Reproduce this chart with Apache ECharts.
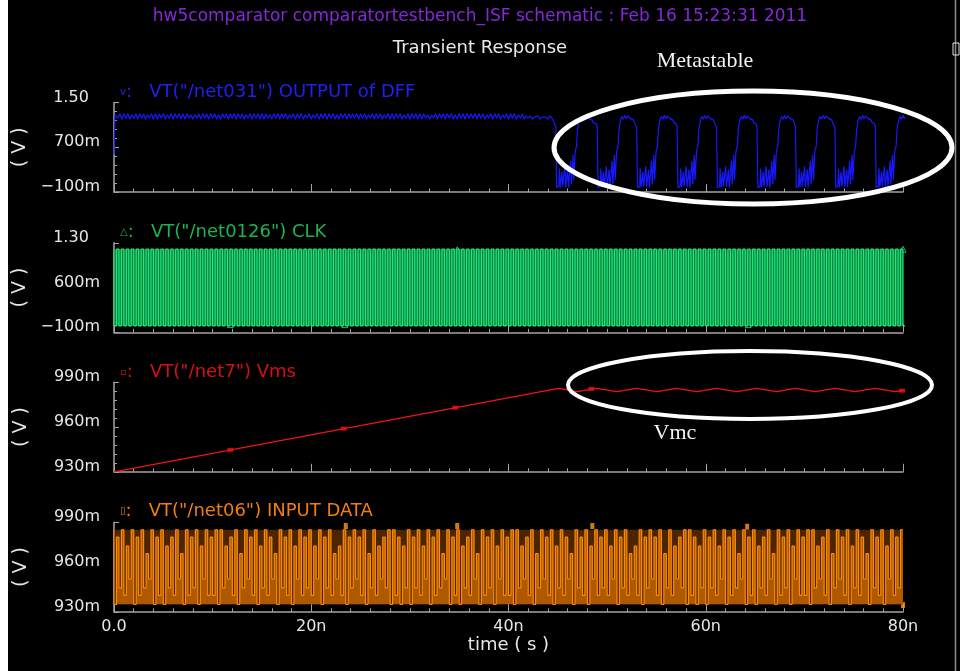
<!DOCTYPE html>
<html><head><meta charset="utf-8">
<script src="https://cdn.jsdelivr.net/npm/echarts@6/dist/echarts.min.js"></script>
<style>html,body{margin:0;padding:0;background:#fff}#c{width:960px;height:671px}</style>
</head><body><div id="c"></div>
<script>
// ---------------- data ----------------
const titleText = 'hw5comparator comparatortestbench_ISF schematic : Feb 16 15:23:31 2011';
const subtitleText = 'Transient Response';
const seriesNames = ['VT("/net031") OUTPUT of DFF', 'VT("/net0126") CLK', 'VT("/net7") Vms', 'VT("/net06") INPUT DATA'];
const legendMarks = ['v', '△', '▫', '▯'];
const xTickLabels = ['0.0', '20n', '40n', '60n', '80n'];
const yTickLabels = [['\u2212100m', '700m', '1.50'], ['\u2212100m', '600m', '1.30'], ['930m', '960m', '990m'], ['930m', '960m', '990m']];
const yMin = [-0.1, -0.1, 0.93, 0.93];
const yMax = [1.5, 1.3, 0.99, 0.99];
const yStep = [0.8, 0.7, 0.03, 0.03];

// OUTPUT of DFF: start, ripple (0.2 ns samples), then metastable cycles
const dffStartNs = [0, 0.1];
const dffStartVolts = [0.57, 1.28];
const dffRippleLevels = [1.20, 1.22, 1.24, 1.26, 1.28, 1.30];
const dffRippleCodes =
  '51505150415051504150' + '50515041505150505140' + '41505150515040515051' +
  '50515041505150505140' + '51505150415051504150' + '41505150515040515051' +
  '51505150415051504150' + '50515041505150505140' + '41505150515040515051' +
  '51505150415051504150' + '51504150313021302120312';
const metaFallNs = [44.8, 49.0, 53.0, 57.1, 61.1, 65.2, 69.1, 73.1, 77.2];
const metaShapeNs = [-0.1, 0.0, 0.08, 0.3, 0.36, 0.45, 0.62, 0.7, 0.92, 1.0, 1.2, 1.28, 1.5, 1.58, 1.74, 1.82, 1.96, 2.1, 2.2, 2.35, 2.5, 2.65, 2.8, 2.95, 3.1, 3.3, 3.5, 3.65, 3.78];
const metaShapeV = [1.12, 1.05, -0.02, 0.0, 0.32, -0.02, 0.26, 0.0, 0.36, -0.01, 0.30, -0.02, 0.46, 0.04, 0.56, 0.12, 0.62, 0.72, 1.02, 1.18, 1.25, 1.20, 1.27, 1.21, 1.26, 1.22, 1.25, 1.19, 1.14];

// CLK: 0.25 ns samples, swing envelope
const clkLevels = [0.0, 1.2];
const clkCodes =
  '1010101010101010101010101010101010101010' + '1010101010101010101010101010101010101010' +
  '1010101010101010101010101010101010101010' + '1010101010101010101010101010101010101010' +
  '1010101010101010101010101010101010101010' + '1010101010101010101010101010101010101010' +
  '1010101010101010101010101010101010101010' + '1010101010101010101010101010101010101010' + '10';
const clkEnvNs = [0, 80];
const clkEnvV = [1.2, 1.2];
const clkMarkNs = [11.8, 23.4, 34.8, 48.6, 64.3, 80.0];
const clkMarkV = [0.02, 0.02, 1.19, 1.08, 0.02, 1.2];

// Vms
const vmsTimeNs = [0, 45.06, 46.93, 48.96, 50.98, 53.01, 55.04, 57.06, 59.09, 61.12, 63.14, 65.17, 67.2, 69.06, 71.08, 73.1, 75.13, 77.16, 79.19, 80.0];
const vmsVolts = [0.930, 0.9860, 0.9837, 0.9860, 0.9837, 0.9860, 0.9837, 0.9860, 0.9837, 0.9860, 0.9837, 0.9860, 0.9837, 0.9860, 0.9837, 0.9860, 0.9837, 0.9860, 0.9837, 0.9845];
const vmsMarkNs = [11.8, 23.3, 34.6, 48.4, 79.9];
const vmsMarkV = [0.9447, 0.9590, 0.9730, 0.9856, 0.9844];

// INPUT DATA: 0.25 ns samples, swing envelope
const inLevels = [0.935, 0.941, 0.946, 0.952, 0.958, 0.963, 0.969, 0.974, 0.980, 0.985];
const inCodes =
  '9082917390819263908190728193609182907391' + '8190927381906293819072918360928190739182' +
  '9173908291637190829381906291738290918072' + '9082917390819263908190728193609182907391' +
  '8190927381906293819072918360928190739182' + '9173908291637190829381906291738290918072' +
  '9082917390819263908190728193609182907391' + '8190927381906293819072918360928190739182' + '9';
const inEnvNs = [0, 80];
const inEnvV = [0.985, 0.985];
const inFloorV = 0.935;
const inMarkNs = [11.8, 23.5, 34.8, 48.5, 64.2, 80.0];
const inMarkV = [0.9446, 0.9875, 0.9875, 0.9875, 0.9870, 0.9345];

// ---------------- build ----------------
const r3 = v => Math.round(v * 1000) / 1000;
function sampled(codes, levels, stepNs) {
  const out = [];
  for (let i = 0; i < codes.length; i++) out.push([r3(i * stepNs), levels[+codes[i]]]);
  return out;
}
function pairs(ts, vs) { return ts.map((t, i) => [t, vs[i]]); }

const dffData = pairs(dffStartNs, dffStartVolts);
for (let i = 0; i < dffRippleCodes.length; i++) dffData.push([r3(0.2 * (i + 1)), dffRippleLevels[+dffRippleCodes[i]]]);
metaFallNs.forEach(F => metaShapeNs.forEach((o, j) => dffData.push([r3(F + o), metaShapeV[j]])));

const clkData = sampled(clkCodes, clkLevels, 0.25);
const inData = sampled(inCodes, inLevels, 0.25);

const FONT = 'DejaVu Sans';
const AX = '#a4a4a4';
const TXT = '#e6e6e6';
const tops = [102.5, 242.8, 382.3, 522.3];
const H = 89.5;
const colors = ['#1818ff', '#22e878', '#ee1414', '#ff8c00'];
const legendColors = ['#2020f0', '#19b454', '#d81010', '#ee7f10'];
const legendCenters = [93, 233.5, 373, 512];

const grids = [], xAxes = [], yAxes = [], legends = [];
for (let p = 0; p < 4; p++) {
  grids.push({ left: 114, top: tops[p], width: 789, height: H, containLabel: false });
  xAxes.push({
    gridIndex: p, type: 'value', min: 0, max: 80, interval: 20,
    axisLine: { show: true, onZero: false, lineStyle: { color: AX, width: 1.5 } },
    axisTick: { show: true, inside: true, length: 8, lineStyle: { color: AX } },
    minorTick: { show: true, splitNumber: 10, length: 3.5, lineStyle: { color: AX } },
    splitLine: { show: false },
    axisLabel: {
      show: p === 3, color: TXT, fontFamily: FONT, fontSize: 16, margin: 7,
      formatter: v => xTickLabels[Math.round(v / 20)]
    },
    name: p === 3 ? 'time ( s )' : '', nameLocation: 'middle', nameGap: 25,
    nameTextStyle: { color: TXT, fontFamily: FONT, fontSize: 18 }
  });
  yAxes.push({
    gridIndex: p, type: 'value', min: yMin[p], max: yMax[p], interval: yStep[p],
    axisLine: { show: true, onZero: false, lineStyle: { color: AX, width: 1.5 } },
    axisTick: { show: true, inside: true, length: 5, lineStyle: { color: AX } },
    minorTick: { show: true, splitNumber: 5, length: 3, lineStyle: { color: AX } },
    splitLine: { show: false },
    axisLabel: {
      color: TXT, fontFamily: FONT, fontSize: 16, margin: 14,
      verticalAlign: 'bottom', lineHeight: 10,
      formatter: (v, i) => {
        const s = yTickLabels[p][i] || '';
        return s.endsWith('m') ? s : s + '\u2002\u2009';
      }
    },
    name: '( V )', nameLocation: 'middle', nameRotate: 90, nameGap: 83,
    nameTextStyle: { color: TXT, fontFamily: FONT, fontSize: 19 }
  });
  legends.push({
    data: [seriesNames[p]], left: 115, top: legendCenters[p] - 10, padding: 0,
    icon: 'none', itemWidth: 0, itemHeight: 0, selectedMode: false,
    formatter: n => '{m|' + legendMarks[p] + '}{t|:   ' + n + '}',
    textStyle: {
      color: legendColors[p], fontFamily: FONT, fontSize: 18,
      rich: {
        m: { color: legendColors[p], fontFamily: FONT, fontSize: 10 },
        t: { color: legendColors[p], fontFamily: FONT, fontSize: 18 }
      }
    }
  });
}

const series = [
  { name: seriesNames[0], type: 'line', xAxisIndex: 0, yAxisIndex: 0, data: dffData, showSymbol: false, symbol: 'none',
    lineStyle: { color: colors[0], width: 1.2 }, itemStyle: { color: colors[0] }, animation: false, silent: true },
  { name: seriesNames[1], type: 'line', xAxisIndex: 1, yAxisIndex: 1, data: pairs(clkEnvNs, clkEnvV), showSymbol: false, symbol: 'none',
    lineStyle: { width: 0 }, itemStyle: { color: '#0b8a45' }, areaStyle: { color: '#0a7f40', opacity: 1, origin: 0 }, animation: false, silent: true },
  { name: seriesNames[1], type: 'line', xAxisIndex: 1, yAxisIndex: 1, data: clkData, step: 'start', showSymbol: false, symbol: 'none',
    lineStyle: { color: colors[1], width: 1.2 }, itemStyle: { color: colors[1] }, animation: false, silent: true },
  { name: seriesNames[1], type: 'scatter', xAxisIndex: 1, yAxisIndex: 1, data: pairs(clkMarkNs, clkMarkV), symbol: 'triangle', symbolSize: 6,
    itemStyle: { color: 'rgba(0,0,0,0)', borderColor: '#22e878', borderWidth: 1 }, animation: false, silent: true },
  { name: seriesNames[2], type: 'line', xAxisIndex: 2, yAxisIndex: 2, data: pairs(vmsTimeNs, vmsVolts), showSymbol: false, symbol: 'none',
    lineStyle: { color: colors[2], width: 1.3 }, itemStyle: { color: colors[2] }, animation: false, silent: true },
  { name: seriesNames[2], type: 'scatter', xAxisIndex: 2, yAxisIndex: 2, data: pairs(vmsMarkNs, vmsMarkV), symbol: 'rect', symbolSize: [6, 4],
    itemStyle: { color: colors[2] }, animation: false, silent: true },
  { name: seriesNames[3], type: 'line', xAxisIndex: 3, yAxisIndex: 3, data: pairs(inEnvNs, inEnvV), showSymbol: false, symbol: 'none',
    lineStyle: { width: 0 }, itemStyle: { color: '#8a4400' }, areaStyle: { color: '#4a2500', opacity: 1, origin: inFloorV }, animation: false, silent: true },
  { name: seriesNames[3], type: 'line', xAxisIndex: 3, yAxisIndex: 3, data: inData, step: 'start', showSymbol: false, symbol: 'none',
    lineStyle: { color: colors[3], width: 1.2 }, itemStyle: { color: colors[3] },
    areaStyle: { color: '#ae5800', opacity: 1, origin: inFloorV }, animation: false, silent: true },
  { name: seriesNames[3], type: 'scatter', xAxisIndex: 3, yAxisIndex: 3, data: pairs(inMarkNs, inMarkV), symbol: 'rect', symbolSize: [4, 6],
    itemStyle: { color: '#ff9a20' }, animation: false, silent: true }
];

const chart = echarts.init(document.getElementById('c'), null, { renderer: 'canvas' });
chart.setOption({
  backgroundColor: '#000',
  animation: false,
  title: [
    { text: titleText, left: 'center', top: 8, padding: 0,
      textStyle: { color: '#8428d8', fontFamily: FONT, fontSize: 17, fontWeight: 'normal' } },
    { text: subtitleText, left: 'center', top: 39, padding: 0,
      textStyle: { color: '#e8e8e8', fontFamily: FONT, fontSize: 18, fontWeight: 'normal' } }
  ],
  legend: legends,
  grid: grids, xAxis: xAxes, yAxis: yAxes, series: series,
  graphic: [
    { type: 'rect', z: 100, shape: { x: 0, y: 0, width: 8, height: 671 }, style: { fill: '#fff' } },
    { type: 'line', z: 100, shape: { x1: 955.5, y1: 0, x2: 955.5, y2: 671 }, style: { stroke: '#8a8a8a', lineWidth: 1.5 } },
    { type: 'rect', z: 100, shape: { x: 953, y: 43, width: 6, height: 12 }, style: { fill: 'none', stroke: '#e0e0e0', lineWidth: 1 } },
    { type: 'ellipse', z: 100, shape: { cx: 753, cy: 147.5, rx: 199, ry: 56.5 }, style: { fill: 'none', stroke: '#ffffff', lineWidth: 5 } },
    { type: 'ellipse', z: 100, shape: { cx: 750, cy: 385, rx: 182, ry: 34 }, style: { fill: 'none', stroke: '#ffffff', lineWidth: 4 } },
    { type: 'text', z: 100, style: { text: 'Metastable', x: 705, y: 61, align: 'center', verticalAlign: 'middle',
      fill: '#f4f4f4', font: '22px "Liberation Serif", serif' } },
    { type: 'text', z: 100, style: { text: 'Vmc', x: 675, y: 433, align: 'center', verticalAlign: 'middle',
      fill: '#f4f4f4', font: '22px "Liberation Serif", serif' } }
  ]
});
</script>
</body></html>
